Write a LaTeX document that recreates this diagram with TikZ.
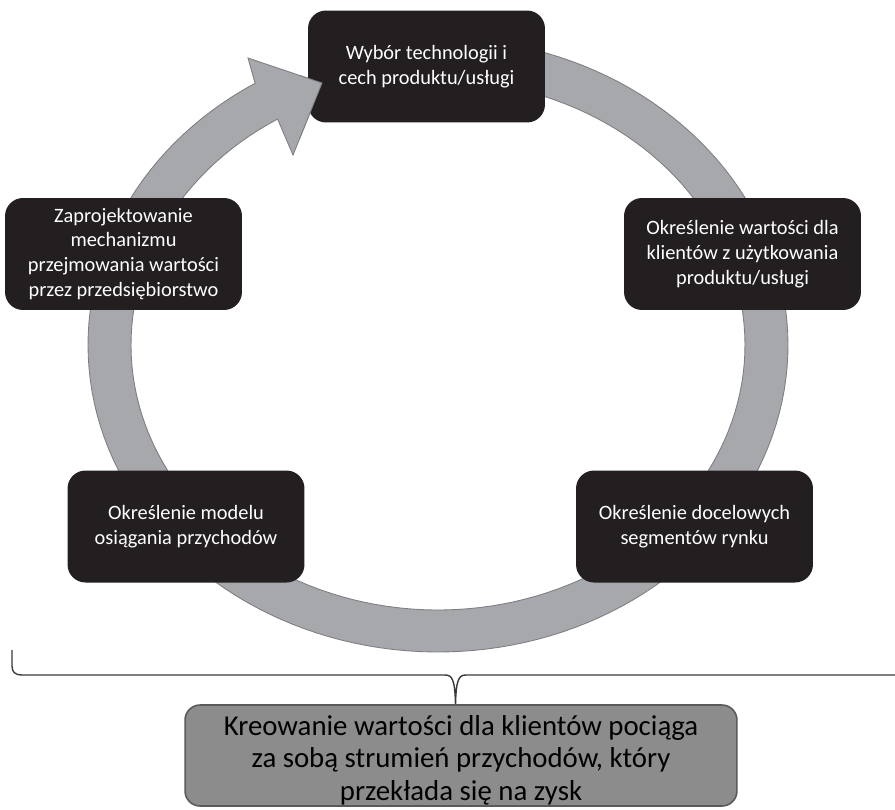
\documentclass[tikz,border=0pt]{standalone}
\usepackage{fontspec}
\setmainfont{Carlito}
\definecolor{ringfill}{HTML}{A7A8AB}
\definecolor{ringline}{HTML}{7E7F83}
\definecolor{boxfill}{HTML}{231F20}
\definecolor{sumfill}{HTML}{8C8C8C}
\definecolor{sumline}{HTML}{5A5A5A}
\definecolor{braceline}{HTML}{3A3A3A}
\tikzset{
  stagebox/.style={fill=boxfill, draw=none, rounded corners=0.36cm,
    minimum width=4.74cm, minimum height=2.24cm, inner sep=0pt,
    align=center, text=white, font=\fontsize{11.6}{14.2}\selectfont},
  sumbox/.style={fill=sumfill, draw=sumline, line width=0.9pt, rounded corners=0.3cm,
    minimum width=11.04cm, minimum height=2.02cm, inner sep=0pt},
  sumtextstyle/.style={inner sep=0pt, align=center, text=black,
    font=\fontsize{16.4}{18.4}\selectfont},
  ringstyle/.style={fill=ringfill, draw=ringline, line width=0.5pt},
  bracestyle/.style={draw=braceline, line width=0.8pt}
}
\begin{document}
\begin{tikzpicture}[x=0.02cm, y=-0.02cm]
\useasboundingbox (0,0) rectangle (895,809);
% ring with arrowhead
\path[ringstyle]
  plot[domain=-85:238.5, samples=150, variable=\t] ({438+350*cos(\t)},{345+307*sin(\t)})
  -- (248,58) -- (322,83) -- (293,155)
  -- plot[domain=238.5:-85, samples=150, variable=\t] ({438+307*cos(\t)},{345+265*sin(\t)})
  -- cycle;
% stage boxes
\node[stagebox] (top) at (426.5,66.5) {Wybór technologii i\\cech produktu/usługi};
\node[stagebox] (ur) at (742.5,254) {Określenie wartości dla\\klientów z użytkowania\\produktu/usługi};
\node[stagebox] (lr) at (694.5,526.5) {Określenie docelowych\\segmentów rynku};
\node[stagebox] (ll) at (186,526.5) {Określenie modelu\\osiągania przychodów};
\node[stagebox] (ul) at (123.5,254) {Zaprojektowanie\\mechanizmu\\przejmowania wartości\\przez przedsiębiorstwo};
% arrow tip lying over the top box
\begin{scope}
  \clip (300,0) rectangle (345,200);
  \fill[ringfill] (248,58) -- (322,83) -- (293,155) -- cycle;
  \draw[ringline, line width=0.5pt] (248,58) -- (322,83) -- (293,155);
\end{scope}
% brace
\coordinate (bl) at (12,650);
\coordinate (br) at (905,675);
\coordinate (tip) at (455.5,705);
\draw[bracestyle] (bl) -- (12,666) .. controls (12,672) and (15,675) .. (22,675)
  -- (445,675) .. controls (452,675) and (455,679) .. (tip)
  .. controls (456,679) and (459,675) .. (466,675) -- (br);
% summary box
\node[sumbox] (sum) at (461,755.5) {};
\node[sumtextstyle] (sumtext) at ([yshift=-0.09cm]sum.center) {Kreowanie wartości dla klientów pociąga\\za sobą strumień przychodów, który\\przekłada się na zysk};
\end{tikzpicture}
\end{document}
